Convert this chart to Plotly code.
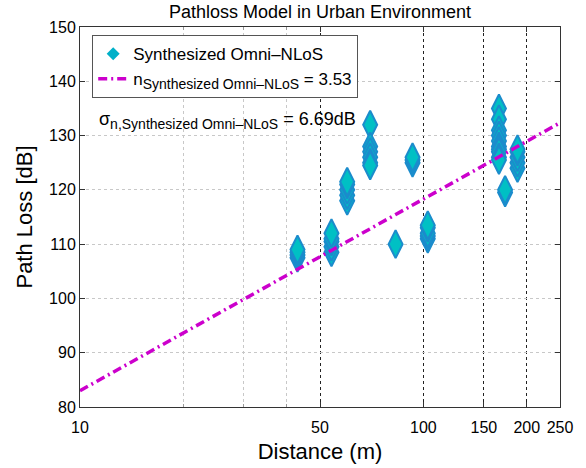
import plotly.graph_objects as go

# ---- data ----
dist_m = [43, 43, 43, 43,
          54, 54, 54, 54, 54,
          60, 60, 60, 60, 60,
          70, 70, 70, 70, 70, 70,
          83,
          93, 93, 93,
          103, 103, 103, 103, 103,
          166, 166, 166, 166, 166, 166, 166, 166, 166, 166,
          173, 173,
          188, 188, 188, 188, 188]
path_loss_db = [107.5, 108, 108.5, 109,
                108.5, 109.5, 110.5, 111, 112,
                118, 119, 120, 121, 121.5,
                132, 128, 127, 126, 125, 124.5,
                110,
                125, 125.5, 126,
                111, 111.5, 112, 113, 113.5,
                135, 133, 131, 130, 129, 128, 127.5, 127, 126, 125.5,
                119.5, 120,
                124, 125, 126, 127, 127.5]
fit_dist = [10, 250]
fit_pl = [83.0, 132.35]
n_ple = 3.53
sigma_db = 6.69
x_ticks = [10, 50, 100, 150, 200, 250]
x_minor = [20, 30, 40]
y_ticks = [80, 90, 100, 110, 120, 130, 140, 150]

FONT = "Liberation Sans, Arial, Helvetica, sans-serif"
label = "Synthesized Omni\u2013NLoS"

W, H = 586, 468

fig = go.Figure()
fig.add_trace(go.Scatter(
    x=dist_m, y=path_loss_db, mode="markers", showlegend=False,
    marker=dict(symbol="diamond-tall", size=20, color="#00c0c4",
                line=dict(color="#1b8ccc", width=2)),
))
fig.add_trace(go.Scatter(
    x=[None], y=[None], mode="markers", name=label,
    marker=dict(symbol="diamond", size=10, color="#00b0c8",
                line=dict(width=0)),
))
fig.add_trace(go.Scatter(
    x=fit_dist, y=fit_pl, mode="lines",
    name="n<sub><span style='font-size:14px'>" + label + "</span></sub> = %.2f" % n_ple,
    line=dict(color="#cc00cc", width=3.5, dash="9px,4px,2px,4px"),
))

fig.add_annotation(
    xref="paper", yref="paper", x=0.035, y=0.755, xanchor="left", yanchor="middle",
    text="\u03c3<sub><span style='font-size:14px'>n," + label + "</span></sub> = %.2fdB" % sigma_db,
    showarrow=False, font=dict(size=18, color="black", family=FONT),
)

fig.update_layout(
    width=W, height=H,
    margin=dict(l=80, r=26, t=27, b=61, autoexpand=False),
    paper_bgcolor="white", plot_bgcolor="white",
    font=dict(family=FONT, color="black", size=16),
    title=dict(text="Pathloss Model in Urban Environment", x=0.5, xref="paper",
               y=1 - 12 / H, yanchor="middle", font=dict(size=18)),
    legend=dict(x=0.025, y=0.979, xanchor="left", yanchor="top",
                bgcolor="white", bordercolor="#555555", borderwidth=1.2,
                font=dict(size=17), tracegroupgap=0),
    showlegend=True,
)
fig.update_xaxes(
    type="log", range=[1, 2.39794], tickmode="array", tickvals=x_ticks,
    ticktext=[str(v) for v in x_ticks], ticks="inside", ticklen=5,
    tickcolor="#333", showline=True, linecolor="#333", linewidth=1,
    mirror="ticks", showgrid=True, gridcolor="#222", griddash="dot", gridwidth=1,
    zeroline=False, automargin=False, ticklabelstandoff=6,
    minor=dict(tickmode="array", tickvals=x_minor, showgrid=True,
               gridcolor="#c8c8c8", griddash="dot", ticks="inside", ticklen=3,
               tickcolor="#999"),
    title=dict(text="Distance (m)", font=dict(size=22), standoff=8),
    tickfont=dict(size=16),
)
fig.update_yaxes(
    range=[80, 150], tickmode="array", tickvals=y_ticks, ticks="inside",
    ticklen=5, tickcolor="#333", showline=True, linecolor="#333", linewidth=1,
    mirror="ticks", showgrid=True, gridcolor="#c8c8c8", griddash="dot",
    zeroline=False, automargin=False,
    title=dict(text="Path Loss [dB]", font=dict(size=22), standoff=10),
    tickfont=dict(size=16),
)

fig.write_html("out.html", config={"displayModeBar": False},
               post_script="document.body.style.margin='0px';document.body.style.overflow='hidden';")
